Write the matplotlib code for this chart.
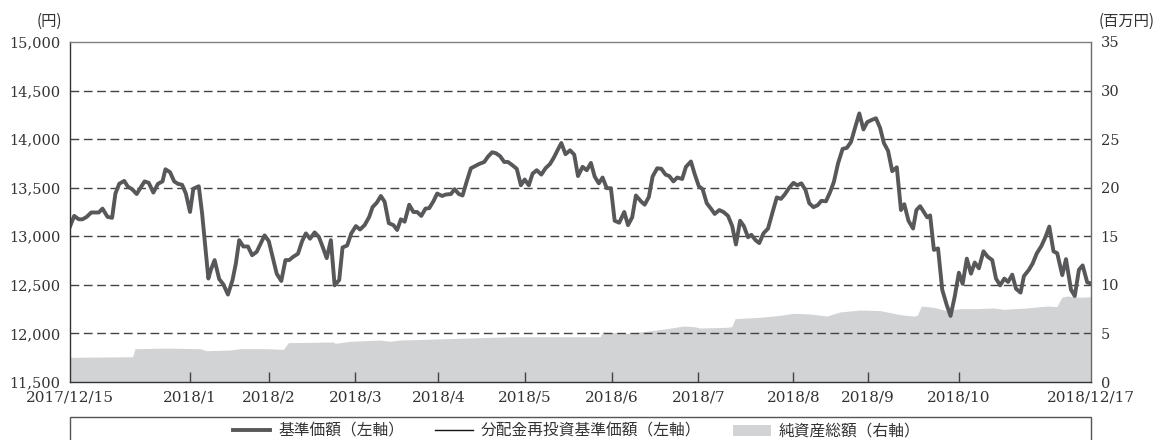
import matplotlib
matplotlib.use("Agg")
import matplotlib.pyplot as plt
from matplotlib.lines import Line2D
from matplotlib.patches import Patch, Rectangle

# 基準価額, x = business-day index from 2017/12/15
nav_day = [0.0, 1.0, 2.1, 3.0, 4.0, 5.1, 6.9, 7.8, 9.0, 10.1, 10.9, 11.8, 13.0, 13.9, 14.9,
           16.0, 17.0, 17.9, 18.9, 20.0, 21.1, 22.2, 22.9, 24.0, 25.0, 25.9, 26.9, 27.8,
           28.8, 29.6, 30.9, 31.7, 33.2, 33.8, 34.7, 35.8, 36.8, 37.9, 39.0, 39.8, 40.6,
           41.6, 42.7, 43.7, 44.8, 45.8, 46.7, 47.7, 48.6, 49.6, 50.7, 51.7, 52.6, 53.6,
           54.7, 55.7, 56.6, 57.6, 58.7, 59.7, 60.6, 61.6, 62.6, 63.5, 64.6, 65.4, 66.5,
           67.5, 68.6, 69.6, 70.7, 71.8, 72.6, 73.6, 74.6, 75.5, 76.5, 77.6, 78.5, 79.4,
           80.3, 81.4, 82.4, 83.3, 84.3, 85.3, 86.2, 87.2, 88.1, 89.3, 90.2, 91.4, 92.3,
           93.3, 94.2, 95.2, 96.2, 97.3, 98.2, 99.4, 100.3, 101.3, 102.2, 103.2, 104.2,
           105.1, 106.2, 107.2, 108.2, 109.1, 110.1, 111.0, 112.0, 113.1, 114.1, 115.2,
           116.1, 117.1, 117.9, 118.9, 120.0, 121.0, 121.9, 123.0, 124.0, 125.0, 125.9,
           126.9, 127.8, 128.8, 129.8, 130.7, 131.8, 133.0, 133.9, 134.9, 135.8, 137.0,
           137.9, 138.9, 139.8, 140.9, 141.9, 142.9, 143.8, 144.8, 145.7, 146.9, 147.8,
           149.0, 149.9, 150.9, 151.8, 152.8, 153.8, 154.7, 155.8, 156.8, 157.9, 158.9,
           159.8, 160.8, 161.7, 162.7, 163.5, 164.5, 165.4, 166.4, 167.5, 168.5, 169.6,
           170.6, 171.5, 172.5, 173.6, 174.5, 175.5, 176.5, 177.4, 178.4, 179.4, 180.3,
           181.4, 182.4, 183.3, 184.3, 185.4, 186.4, 187.4, 188.3, 189.4, 190.4, 191.3,
           192.5, 193.4, 194.4, 195.3, 196.3, 197.3, 198.4, 199.4, 200.2, 201.2, 202.3,
           203.1, 204.0, 204.8, 205.7, 206.4, 207.3, 208.3, 209.3, 210.4, 211.3, 212.3,
           213.3, 214.2, 215.2, 216.2, 217.1, 218.1, 219.2, 220.2, 221.3, 222.2, 223.2,
           224.2, 225.1, 226.1, 227.0, 228.1, 228.9, 230.1, 231.0, 232.0, 233.1, 234.1,
           235.0, 236.0, 236.9, 238.1, 239.0, 240.2, 241.1, 242.1, 243.0, 244.1, 245.0]
nav_value = [13100, 13210, 13175, 13175, 13200, 13245, 13245, 13285, 13200, 13190, 13440,
             13540, 13570, 13510, 13485, 13435, 13505, 13565, 13550, 13450, 13540, 13565,
             13690, 13660, 13565, 13540, 13530, 13440, 13250, 13490, 13515, 13235, 12565,
             12655, 12755, 12560, 12505, 12400, 12550, 12720, 12960, 12895, 12895, 12805,
             12840, 12930, 13010, 12950, 12790, 12615, 12540, 12755, 12755, 12790, 12820,
             12950, 13030, 12975, 13040, 12995, 12895, 12775, 12960, 12495, 12550, 12885,
             12905, 13030, 13105, 13070, 13115, 13200, 13300, 13345, 13415, 13355, 13135,
             13115, 13065, 13175, 13150, 13325, 13250, 13250, 13210, 13285, 13290, 13360,
             13440, 13415, 13430, 13435, 13485, 13435, 13420, 13565, 13700, 13725, 13745,
             13765, 13820, 13865, 13855, 13825, 13765, 13765, 13730, 13695, 13525, 13585,
             13525, 13645, 13680, 13635, 13700, 13745, 13810, 13895, 13960, 13845, 13885,
             13840, 13620, 13715, 13680, 13755, 13615, 13545, 13605, 13495, 13495, 13160,
             13140, 13250, 13115, 13195, 13420, 13360, 13325, 13405, 13615, 13700, 13695,
             13635, 13620, 13565, 13605, 13590, 13715, 13770, 13640, 13515, 13485, 13340,
             13285, 13230, 13270, 13250, 13210, 13105, 12915, 13160, 13105, 12990, 13015,
             12960, 12930, 13030, 13080, 13235, 13400, 13385, 13430, 13495, 13550, 13525,
             13545, 13475, 13340, 13300, 13320, 13365, 13360, 13455, 13560, 13750, 13900,
             13910, 13970, 14105, 14265, 14100, 14175, 14200, 14215, 14115, 13960, 13880,
             13670, 13710, 13270, 13330, 13160, 13080, 13270, 13310, 13255, 13195, 13215,
             12860, 12875, 12450, 12290, 12180, 12380, 12625, 12510, 12770, 12615, 12730,
             12670, 12845, 12790, 12755, 12565, 12495, 12565, 12530, 12605, 12460, 12420,
             12590, 12655, 12720, 12825, 12900, 12995, 13100, 12845, 12825, 12600, 12765,
             12450, 12385, 12655, 12700, 12525, 12515]
# 分配金再投資基準価額 (no distributions -> same as 基準価額)
reinv_value = list(nav_value)

# 純資産総額 (百万円)
aum_day = [0.0, 15.0, 15.6, 23.2, 31.2, 32.8, 38.4, 40.8, 47.2, 51.2, 52.4, 63.2, 63.6,
           67.2, 74.4, 76.8, 79.2, 90.4, 106.4, 127.2, 127.8, 133.6, 138.4, 143.2, 147.2,
           149.6, 151.2, 157.6, 158.8, 159.6, 165.6, 170.4, 173.6, 177.6, 181.6, 184.8,
           189.6, 194.4, 199.2, 202.4, 203.3, 204.3, 207.2, 210.4, 213.6, 217.6, 221.6,
           224.0, 229.6, 234.4, 236.8, 238.0, 239.2, 242.4, 245.0]
aum_value = [2.54, 2.6, 3.43, 3.49, 3.43, 3.22, 3.29, 3.43, 3.43, 3.36, 4.05, 4.12, 3.98,
             4.19, 4.32, 4.19, 4.32, 4.46, 4.66, 4.66, 5.15, 5.01, 5.22, 5.49, 5.76, 5.70,
             5.56, 5.63, 5.70, 6.52, 6.66, 6.86, 7.07, 7.00, 6.79, 7.21, 7.41, 7.35, 6.93,
             6.79, 6.86, 7.82, 7.69, 7.35, 7.55, 7.55, 7.62, 7.48, 7.62, 7.82, 7.76, 8.72,
             8.85, 8.72, 8.78]

tick_pos = [0, 28.8, 47.7, 68.5, 88.4, 109.2, 130.0, 150.8, 173.6, 191.4, 213.3, 245]
tick_labels = ['2017/12/15', '2018/1', '2018/2', '2018/3', '2018/4', '2018/5', '2018/6',
               '2018/7', '2018/8', '2018/9', '2018/10', '2018/12/17']
left_ticks = list(range(11500, 15001, 500))
right_ticks = list(range(0, 36, 5))

plt.rcParams['font.family'] = ['DejaVu Serif', 'Noto Sans CJK JP']
jp = ['Noto Sans CJK JP', 'DejaVu Sans']
txt = '#333333'

fig = plt.figure(figsize=(11.62, 4.40), dpi=100)
ax = fig.add_axes([70 / 1162, 58 / 440, 1021 / 1162, 340 / 440])
ax2 = ax.twinx()
ax.set_zorder(ax2.get_zorder() + 1)
ax.patch.set_visible(False)

ax2.fill_between(aum_day, aum_value, 0, color='#d2d3d5', lw=0)
ax.plot(nav_day, reinv_value, color='#111111', lw=1.0)
ax.plot(nav_day, nav_value, color='#58585a', lw=2.8)

ax.set_xlim(0, 245)
ax.set_ylim(11500, 15000)
ax2.set_ylim(0, 35)

ax.set_yticks(left_ticks)
ax.set_yticklabels([f'{v:,}' for v in left_ticks])
ax2.set_yticks(right_ticks)
ax.tick_params(axis='y', length=0, pad=7, labelsize=10.5, labelcolor=txt)
ax2.tick_params(axis='y', length=0, pad=7, labelsize=10.5, labelcolor=txt)

ax.set_xticks(tick_pos)
ax.set_xticklabels(tick_labels)
ax.tick_params(axis='x', direction='in', length=7, width=1, color='#444444',
               pad=6, labelsize=11, labelcolor=txt)
xt = ax.xaxis.get_major_ticks()
xt[0].tick1line.set_visible(False)
xt[-1].tick1line.set_visible(False)

ax.grid(axis='y', color='#444444', lw=1.0, linestyle=(0, (6.3, 3.3)))
gl = ax.get_ygridlines()
gl[0].set_visible(False)
gl[-1].set_visible(False)

ax.spines['top'].set_color('#808080')
ax.spines['left'].set_color('#333333')
ax.spines['bottom'].set_color('#333333')
ax.spines['right'].set_color('#6a6a6a')
for s in ax.spines.values():
    s.set_linewidth(1.0)
for s in ax2.spines.values():
    s.set_visible(False)

fig.text(62 / 1162, 1 - 21 / 440, '(円)', ha='right', va='center',
         family=jp, fontsize=11, color=txt)
fig.text(1099 / 1162, 1 - 21 / 440, '(百万円)', ha='left', va='center',
         family=jp, fontsize=11, color=txt)

handles = [Line2D([], [], color='#58585a', lw=2.8),
           Line2D([], [], color='#111111', lw=1.0),
           Patch(facecolor='#d2d3d5', edgecolor='none')]
labels = ['基準価額（左軸）', '分配金再投資基準価額（左軸）', '純資産総額（右軸）']
leg = fig.legend(handles, labels, loc='center', bbox_to_anchor=(0.496, 9 / 440), ncol=3,
                 frameon=False, prop={'family': jp, 'size': 11.3}, handlelength=2.4,
                 handletextpad=0.5, columnspacing=2.0, borderpad=0)
for t in leg.get_texts():
    t.set_color(txt)

fig.patches.append(Rectangle((70 / 1162, -0.05), 1021 / 1162, 0.05 + 23 / 440,
                             transform=fig.transFigure, fill=False,
                             edgecolor='#555555', lw=1.0))

fig.savefig('out.png', dpi=100)
